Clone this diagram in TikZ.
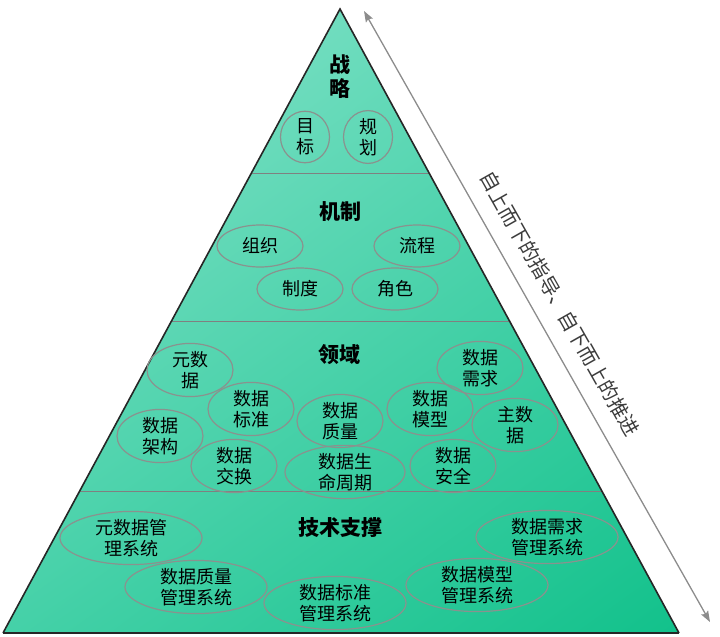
\documentclass[tikz,border=0pt]{standalone}
\usepackage{fontspec}
\setmainfont{Noto Sans CJK SC}
\usetikzlibrary{shapes.geometric,arrows.meta,calc,shadings}
\definecolor{ellgray}{HTML}{8A928E}
\definecolor{divgray}{HTML}{808080}
\definecolor{arrgray}{HTML}{8C8C8C}
\definecolor{txtgray}{HTML}{3C3C3C}
\definecolor{tl}{HTML}{8FE4CE}
\definecolor{tr}{HTML}{52D6B0}
\definecolor{bl}{HTML}{45D1A8}
\definecolor{br}{HTML}{12C18B}
\begin{document}
\begin{tikzpicture}[x=1pt,y=-1pt,
  lbl/.style={font=\fontsize{18}{21}\selectfont, align=center, text=black},
  ttl/.style={font=\fontsize{21}{24}\selectfont\bfseries, align=center, text=black},
  eli/.style={lbl, draw=ellgray, line width=1.2pt, ellipse, inner sep=0pt},
  sm/.style={eli, minimum width=86pt, minimum height=42pt},
  rnd/.style={eli, minimum width=49pt, minimum height=50pt},
  lg/.style={eli, minimum width=142pt, minimum height=41pt},
  divline/.style={draw=divgray, line width=1pt},
  triedge/.style={draw=black!85, line width=1.6pt, line join=miter},
  dblarrow/.style={draw=arrgray, line width=1.3pt, {Stealth[length=11pt,width=8pt,inset=2pt]}-{Stealth[length=11pt,width=8pt,inset=2pt]}}
]
\useasboundingbox (0,0) rectangle (720,637);
\coordinate (A) at (340,9);
\coordinate (BL) at (3,633);
\coordinate (BR) at (679,633);
\shade[upper left=tl, upper right=tr, lower left=bl, lower right=br] (A) -- (BR) -- (BL) -- cycle;
% dividers
\coordinate (d1l) at ($(A)!0.2644!(BL)$); \coordinate (d1r) at ($(A)!0.2644!(BR)$);
\coordinate (d2l) at ($(A)!0.5!(BL)$);    \coordinate (d2r) at ($(A)!0.5!(BR)$);
\coordinate (d3l) at ($(A)!0.774!(BL)$);  \coordinate (d3r) at ($(A)!0.774!(BR)$);
\draw[divline] (d1l) -- (d1r);
\draw[divline] (d2l) -- (d2r);
\draw[divline] (d3l) -- (d3r);
\draw[triedge] (BL) -- (A) -- (BR);
\draw[draw=black!85, line width=2.2pt] (BL) -- (BR);

% level 1
\node[ttl] (t1) at (340,77) {战\\略};
\node[rnd] (e11) at (305,137) {目\\标};
\node[rnd] (e12) at (368,137) {规\\划};

% level 2
\node[ttl] (t2) at (340,212) {机制};
\node[sm] (e21) at (260,246) {组织};
\node[sm] (e22) at (417,246) {流程};
\node[sm] (e23) at (300,289) {制度};
\node[sm] (e24) at (395,289) {角色};

% level 3
\node[ttl] (t3) at (339,355) {领域};
\node[sm] (e31) at (190,370) {元数\\据};
\node[sm] (e32) at (251,409) {数据\\标准};
\node[sm] (e33) at (160,436) {数据\\架构};
\node[sm] (e34) at (340,421) {数据\\质量};
\node[sm] (e35) at (234,466) {数据\\交换};
\node[eli, minimum width=120pt, minimum height=41pt] (e36) at (345,472) {数据生\\命周期};
\node[sm] (e37) at (480,368) {数据\\需求};
\node[sm] (e38) at (430,409) {数据\\模型};
\node[sm] (e39) at (515,425) {主数\\据};
\node[sm] (e310) at (453,466) {数据\\安全};

% level 4
\node[ttl] (t4) at (340,528) {技术支撑};
\node[lg] (e41) at (131,538) {元数据管\\理系统};
\node[lg] (e42) at (196,587) {数据质量\\管理系统};
\node[lg] (e43) at (335,603) {数据标准\\管理系统};
\node[lg] (e44) at (547,537) {数据需求\\管理系统};
\node[lg] (e45) at (477,585) {数据模型\\管理系统};

% arrow
\coordinate (ar1) at (364,11);
\coordinate (ar2) at (710,622);
\draw[dblarrow] (ar1) -- (ar2);
\coordinate (arm) at ($(ar1)!0.5!(ar2)$);
\node[font=\fontsize{20}{24}\selectfont, text=txtgray, rotate=-60.47] (side) at ($(arm)!26pt!90:(ar2)$) {自上而下的指导、自下而上的推进};
\end{tikzpicture}
\end{document}
